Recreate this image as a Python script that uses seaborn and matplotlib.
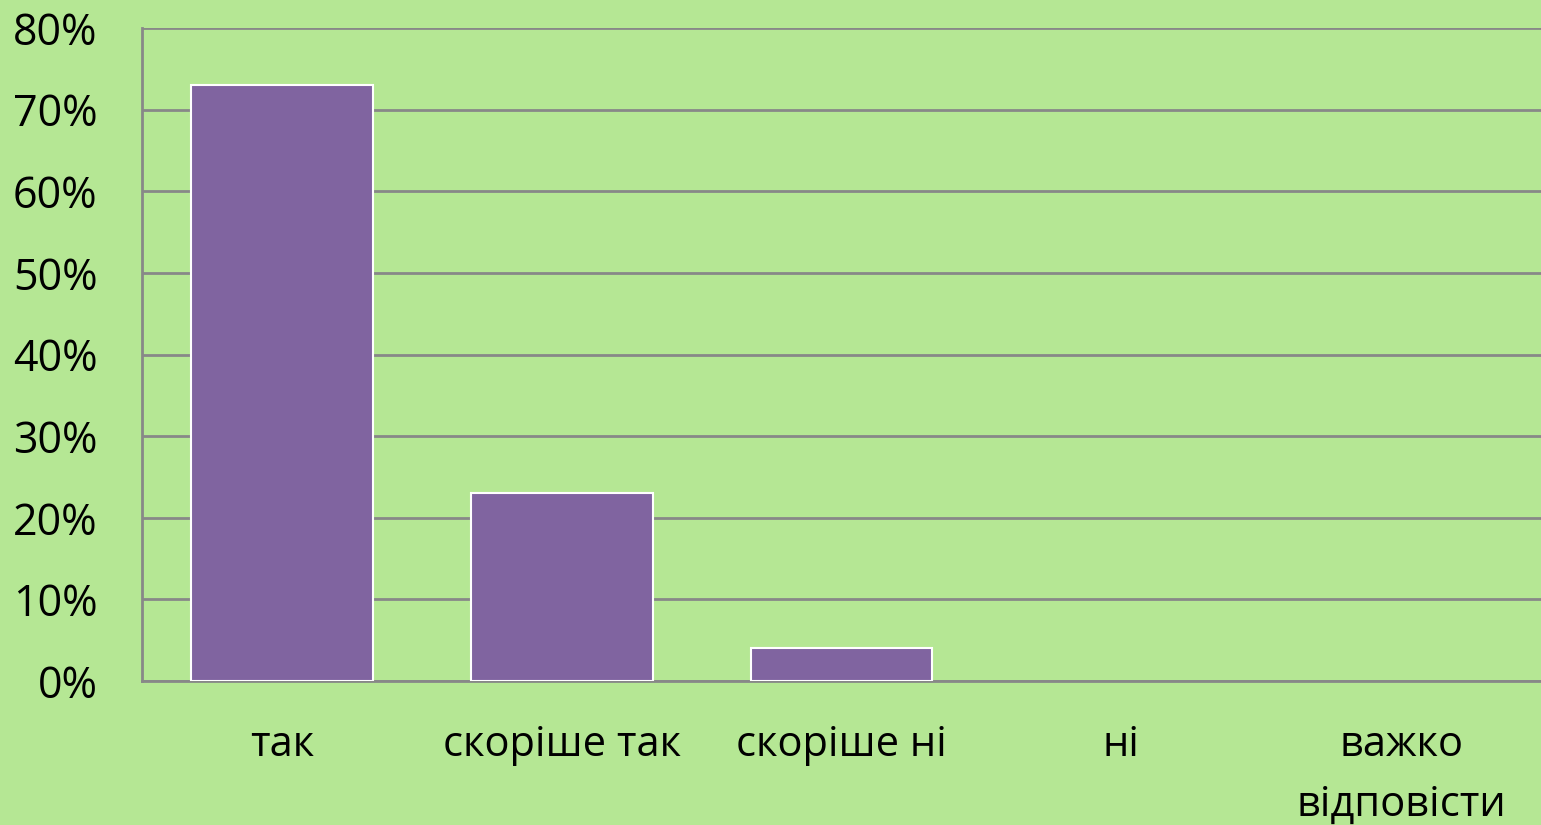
import pandas as pd
import matplotlib
matplotlib.use("Agg")
import matplotlib.pyplot as plt
import seaborn as sns
import matplotlib.ticker as ticker

categorias = ["так", "скоріше так", "скоріше ні", "ні", "важко\nвідповісти"]
valores = [0.73, 0.23, 0.04, 0.0, 0.0]

dados = pd.DataFrame({"resposta": categorias, "valor": valores})

fundo = "#B5E794"
cor_barra = "#8064A0"
cinza = "#888888"

sns.set_style("white")
plt.rcParams["font.family"] = ["Open Sans", "DejaVu Sans"]

fig = plt.figure(figsize=(15.41, 8.25), dpi=100, facecolor=fundo)
ax = fig.add_axes([0.0921, 0.1745, 0.9079, 0.7915])
ax.set_facecolor(fundo)

sns.barplot(data=dados, x="resposta", y="valor", color=cor_barra, width=0.65,
            edgecolor="white", linewidth=1.5, saturation=1, ax=ax, zorder=3)

# barras com valor zero nao aparecem
for barra in ax.patches:
    if barra.get_height() == 0:
        barra.set_visible(False)

ax.set_ylim(0, 0.8)
ax.set_xlim(-0.5, 4.5)
ax.yaxis.set_major_locator(ticker.MultipleLocator(0.1))
ax.yaxis.set_major_formatter(ticker.PercentFormatter(1.0, decimals=0))
ax.grid(axis="y", color=cinza, linewidth=2, zorder=0)
ax.set_axisbelow(True)

for lado in ["top", "right"]:
    ax.spines[lado].set_visible(False)
for lado in ["left", "bottom"]:
    ax.spines[lado].set_color(cinza)
    ax.spines[lado].set_linewidth(2)

ax.tick_params(axis="both", length=0, colors="black")
ax.tick_params(axis="y", pad=32, labelsize=31)
ax.tick_params(axis="x", pad=31, labelsize=30)
for rotulo in ax.get_xticklabels():
    rotulo.set_linespacing(1.55)
ax.set_xlabel("")
ax.set_ylabel("")

plt.savefig("out.png", dpi=100, facecolor=fundo)
